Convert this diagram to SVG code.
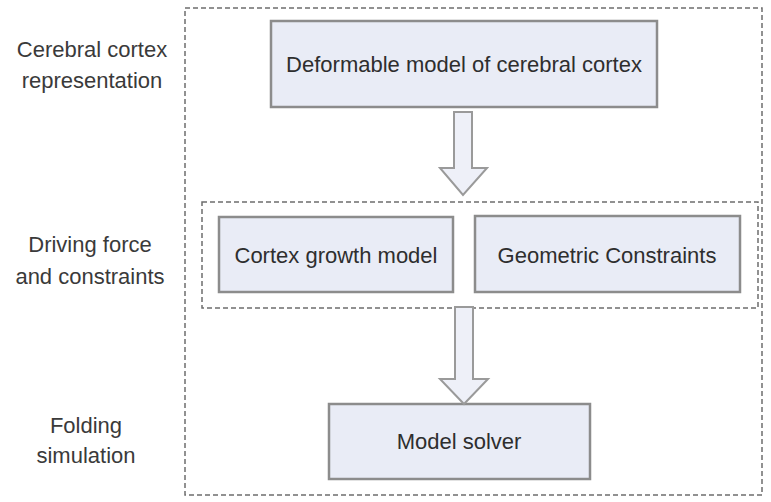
<svg xmlns="http://www.w3.org/2000/svg" width="771" height="502" viewBox="0 0 771 502">
<style>
.t{font-family:"Liberation Sans",Arial,sans-serif;font-size:22px;fill:#2e2e2e;text-anchor:middle}
.lab{font-family:"Liberation Sans",Arial,sans-serif;font-size:22px;fill:#3a3a3a;text-anchor:middle}
.box{fill:#e9ecf6;stroke:#8c8c8c;stroke-width:2.5}
.dash{fill:none;stroke:#6e6e6e;stroke-width:1.5;stroke-dasharray:5 3}
.arr{fill:#eef0f8;stroke:#9a9a9a;stroke-width:2}
</style>
<rect width="771" height="502" fill="#ffffff"/>
<g id="labels">
<text class="lab" x="92" y="57">Cerebral cortex</text>
<text class="lab" x="92" y="88">representation</text>
<text class="lab" x="90" y="252">Driving force</text>
<text class="lab" x="90" y="284">and constraints</text>
<text class="lab" x="86" y="433">Folding</text>
<text class="lab" x="86" y="463">simulation</text>
</g>
<g id="frame">
<rect class="dash" x="185" y="8" width="577" height="487"/>
<rect class="dash" x="202" y="202" width="556" height="106"/>
</g>
<g id="deformable">
<rect class="box" x="271" y="21" width="386" height="86"/>
<text class="t" x="464" y="72">Deformable model of cerebral cortex</text>
</g>
<g id="growth">
<rect class="box" x="219" y="217" width="234" height="75"/>
<text class="t" x="336" y="263">Cortex growth model</text>
</g>
<g id="geometric">
<rect class="box" x="475" y="216" width="265" height="76"/>
<text class="t" x="607" y="263">Geometric Constraints</text>
</g>
<g id="solver">
<rect class="box" x="329" y="404" width="261" height="75"/>
<text class="t" x="459" y="449">Model solver</text>
</g>
<g id="connectors">
<polygon class="arr" points="454,112 472,112 472,168 487,168 463,195 440,168 454,168"/>
<polygon class="arr" points="455,307 473,307 473,379 488,379 464,404 440,379 455,379"/>
</g>
</svg>
